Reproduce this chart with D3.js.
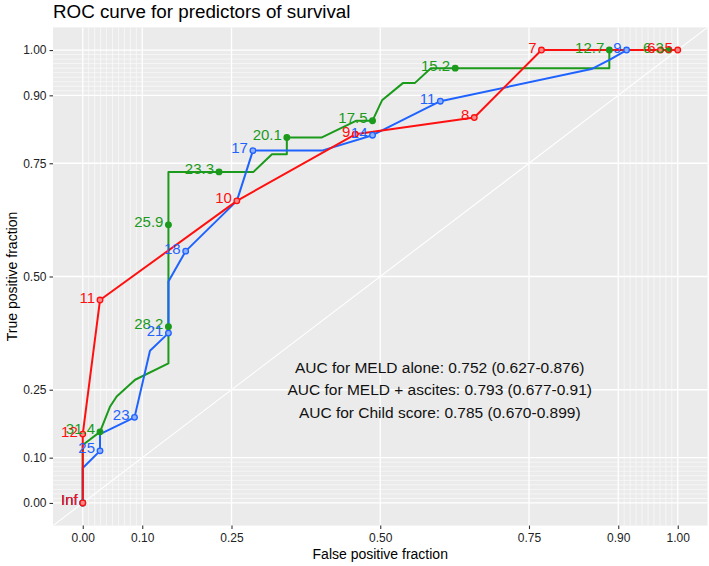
<!DOCTYPE html>
<html>
<head>
<meta charset="utf-8">
<script src="https://cdn.jsdelivr.net/npm/d3@7/dist/d3.min.js"></script>
<style>
  html, body { margin: 0; padding: 0; background: #ffffff; }
  svg { display: block; font-family: "Liberation Sans", Arial, Helvetica, sans-serif; }
</style>
</head>
<body>
<svg id="chart" width="709" height="566"></svg>
<script>
// ---------- data ----------
const title = "ROC curve for predictors of survival";
const xTitle = "False positive fraction";
const yTitle = "True positive fraction";

const majorBreaks = [0, 0.1, 0.25, 0.5, 0.75, 0.9, 1];
const majorLabels = ["0.00", "0.10", "0.25", "0.50", "0.75", "0.90", "1.00"];

// MELD + ascites (green) – path [fpf, tpf]
const greenPath = [[0,0],[0,0.128],[0.029,0.157],[0.046,0.213],[0.057,0.235],[0.088,0.272],[0.144,0.308],
  [0.144,0.389],[0.144,0.614],[0.144,0.731],[0.229,0.731],[0.287,0.731],[0.318,0.770],[0.343,0.770],
  [0.343,0.807],[0.402,0.807],[0.46,0.844],[0.487,0.844],[0.503,0.889],[0.538,0.927],[0.558,0.927],
  [0.585,0.96],[0.626,0.96],[0.885,0.96],[0.885,1.0],[0.985,1.0],[1,1]];
const greenCuts = [[0,0,"Inf"],[0.029,0.157,"31.4"],[0.144,0.389,"28.2"],[0.144,0.614,"25.9"],[0.229,0.731,"23.3"],
  [0.343,0.807,"20.1"],[0.487,0.844,"17.5"],[0.626,0.96,"15.2"],[0.885,1.0,"12.7"],[0.985,1.0,"6.3"]];

// MELD alone (blue)
const bluePath = [[0,0],[0,0.077],[0.029,0.115],[0.029,0.152],[0.087,0.189],[0.113,0.336],[0.144,0.375],
  [0.144,0.489],[0.173,0.556],[0.259,0.667],[0.286,0.778],[0.402,0.778],[0.487,0.812],[0.601,0.887],
  [0.855,0.958],[0.886,0.979],[0.914,1.0],[1,1]];
const blueCuts = [[0,0,"Inf"],[0.029,0.115,"25"],[0.087,0.189,"23"],[0.144,0.375,"21"],[0.173,0.556,"18"],
  [0.286,0.778,"17"],[0.487,0.812,"14"],[0.601,0.887,"11"],[0.914,1.0,"9"]];

// Child score (red)
const redPath = [[0,0],[0,0.152],[0.029,0.448],[0.259,0.667],[0.458,0.814],[0.658,0.851],[0.771,1.0],[0.971,1.0],[1,1]];
const redCuts = [[0,0,"Inf"],[0,0.152,"12"],[0.029,0.448,"11"],[0.259,0.667,"10"],[0.458,0.814,"9"],
  [0.658,0.851,"8"],[0.771,1.0,"7"],[0.971,1.0,"6"],[1.0,1.0,"5"]];

const aucTexts = ["AUC for MELD alone: 0.752 (0.627-0.876)",
                  "AUC for MELD + ascites: 0.793 (0.677-0.91)",
                  "AUC for Child score: 0.785 (0.670-0.899)"];
const aucX = 0.6;
const aucY = [0.3, 0.25, 0.2];

// ---------- layout ----------
const svg = d3.select("#chart");
const panel = { left: 53, right: 707.5, top: 27.4, bottom: 525.6 };
const x = d3.scaleLinear().domain([-0.05, 1.05]).range([panel.left, panel.right]);
const y = d3.scaleLinear().domain([-0.05, 1.05]).range([panel.bottom, panel.top]);

const series = [
  { path: greenPath, cuts: greenCuts, color: "#1b9a1b", fill: "#1b9a1b" },
  { path: bluePath,  cuts: blueCuts,  color: "#1f63ff", fill: "#8fb0ff" },
  { path: redPath,   cuts: redCuts,   color: "#ff1010", fill: "#ff8a8a" }
];

// panel background
svg.append("rect").attr("x", panel.left).attr("y", panel.top)
  .attr("width", panel.right - panel.left).attr("height", panel.bottom - panel.top)
  .attr("fill", "#ebebeb");

const minorBreaks = d3.range(0, 101).map(i => i / 100)
  .filter(v => (v < 0.1 || v > 0.9) && !majorBreaks.includes(v));

const grid = svg.append("g");
grid.selectAll(".mx").data(minorBreaks).enter().append("line")
  .attr("x1", d => x(d)).attr("x2", d => x(d)).attr("y1", panel.top).attr("y2", panel.bottom)
  .attr("stroke", "#fafafa").attr("stroke-width", 0.7);
grid.selectAll(".my").data(minorBreaks).enter().append("line")
  .attr("y1", d => y(d)).attr("y2", d => y(d)).attr("x1", panel.left).attr("x2", panel.right)
  .attr("stroke", "#fafafa").attr("stroke-width", 0.7);
grid.selectAll(".Mx").data(majorBreaks).enter().append("line")
  .attr("x1", d => x(d)).attr("x2", d => x(d)).attr("y1", panel.top).attr("y2", panel.bottom)
  .attr("stroke", "#ffffff").attr("stroke-width", 1.3);
grid.selectAll(".My").data(majorBreaks).enter().append("line")
  .attr("y1", d => y(d)).attr("y2", d => y(d)).attr("x1", panel.left).attr("x2", panel.right)
  .attr("stroke", "#ffffff").attr("stroke-width", 1.3);

svg.append("clipPath").attr("id", "clip").append("rect")
  .attr("x", panel.left).attr("y", panel.top)
  .attr("width", panel.right - panel.left).attr("height", panel.bottom - panel.top);

svg.append("line").attr("clip-path", "url(#clip)")
  .attr("x1", x(-0.05)).attr("y1", y(-0.05)).attr("x2", x(1.05)).attr("y2", y(1.05))
  .attr("stroke", "#ffffff").attr("stroke-width", 1.1);

// axes
const xAxis = d3.axisBottom(x).tickValues(majorBreaks).tickFormat((d, i) => majorLabels[i])
  .tickSize(3.5).tickPadding(4);
const yAxis = d3.axisLeft(y).tickValues(majorBreaks).tickFormat((d, i) => majorLabels[i])
  .tickSize(3.5).tickPadding(3);

const gx = svg.append("g").attr("transform", `translate(0,${panel.bottom})`).call(xAxis);
const gy = svg.append("g").attr("transform", `translate(${panel.left},0)`).call(yAxis);
[gx, gy].forEach(g => {
  g.select(".domain").remove();
  g.selectAll(".tick line").attr("stroke", "#333333").attr("stroke-width", 1.1);
  g.selectAll(".tick text").attr("fill", "#222222").attr("font-size", 12)
    .attr("font-family", "Liberation Sans, Arial, sans-serif");
});

// lines
const line = d3.line().x(d => x(d[0])).y(d => y(d[1]));
series.forEach(s => {
  svg.append("path").datum(s.path).attr("d", line).attr("fill", "none")
    .attr("stroke", s.color).attr("stroke-width", 2).attr("stroke-linejoin", "round");
});
// points
series.forEach(s => {
  svg.append("g").selectAll("circle").data(s.cuts).enter().append("circle")
    .attr("cx", d => x(d[0])).attr("cy", d => y(d[1])).attr("r", 2.8)
    .attr("fill", s.fill).attr("stroke", s.color).attr("stroke-width", 1.3);
});
// cutoff labels
series.forEach(s => {
  svg.append("g").selectAll("text").data(s.cuts).enter().append("text")
    .attr("x", d => x(d[0]) - 5).attr("y", d => y(d[1]) + 2.5)
    .attr("text-anchor", "end").attr("font-size", 15).attr("fill", s.color)
    .text(d => d[2]);
});

// AUC annotations
svg.append("g").selectAll("text").data(aucTexts).enter().append("text")
  .attr("x", x(aucX)).attr("y", (d, i) => y(aucY[i]) + 5.5)
  .attr("text-anchor", "middle").attr("font-size", 15.5).attr("fill", "#111111")
  .text(d => d);

// titles
svg.append("text").attr("x", 53).attr("y", 17.5).attr("font-size", 18.8).attr("fill", "#000")
  .text(title);
svg.append("text").attr("x", (panel.left + panel.right) / 2).attr("y", 559)
  .attr("text-anchor", "middle").attr("font-size", 14).attr("fill", "#000").text(xTitle);
svg.append("text").attr("transform", `translate(17,${(panel.top + panel.bottom) / 2}) rotate(-90)`)
  .attr("text-anchor", "middle").attr("font-size", 14).attr("fill", "#000").text(yTitle);
</script>
</body>
</html>
